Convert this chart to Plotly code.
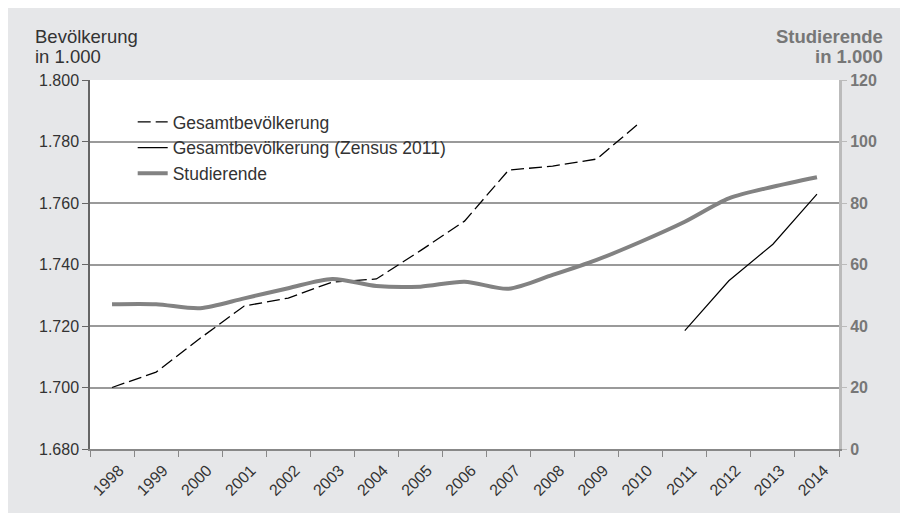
import plotly.graph_objects as go

years = [str(y) for y in range(1998, 2015)]

# Bevölkerung in 1.000 (linke Achse)
bev = [1700.0, 1705.0, 1716.0, 1726.5, 1729.1, 1734.3, 1735.3, 1744.5, 1754.1,
       1770.7, 1772.0, 1774.3, 1786.4]
bev_years = years[:13]
zensus = [1718.5, 1734.7, 1746.6, 1762.9]
zensus_years = years[13:]

# Studierende in 1.000 (rechte Achse)
stud = [47.1, 47.1, 45.8, 49.0, 52.3, 55.3, 53.0, 52.8, 54.4, 52.1, 56.6, 61.5,
        67.4, 73.9, 81.5, 85.3, 88.4]

font = "Liberation Sans, Arial, sans-serif"

fig = go.Figure()
fig.add_trace(go.Scatter(x=bev_years, y=bev, mode="lines", name="Gesamtbevölkerung",
                         line=dict(color="black", width=1.3, dash="13px,5px")))
fig.add_trace(go.Scatter(x=zensus_years, y=zensus, mode="lines",
                         name="Gesamtbevölkerung (Zensus 2011)",
                         line=dict(color="black", width=1.2)))
fig.add_trace(go.Scatter(x=years, y=stud, mode="lines", name="Studierende", yaxis="y2",
                         line=dict(color="#828282", width=4, shape="spline", smoothing=0.8)))

# page has an 8px body margin, so the figure is sized to end where the grey box ends
fig.update_layout(
    width=897, height=505,
    margin=dict(l=82, r=66, t=72, b=64),
    paper_bgcolor="#e6e7e9",
    plot_bgcolor="white",
    separators=",.",
    font=dict(family=font, size=16, color="#333333"),
    showlegend=True,
    legend=dict(x=0.057, y=0.935, xanchor="left", yanchor="top",
                bgcolor="rgba(0,0,0,0)", font=dict(size=17.5, color="#333333"),
                tracegroupgap=0, itemwidth=30),
    xaxis=dict(type="category", tickson="boundaries", ticks="outside", ticklen=6,
               tickcolor="#888888", showline=True, linecolor="#888888", linewidth=1.5,
               showgrid=False, tickangle=-45, tickfont=dict(size=16, color="#333333"),
               ticklabelshift=7, ticklabelstandoff=4, range=[-0.5, 16.5]),
    yaxis=dict(range=[1680, 1800], dtick=20, tickformat=",d", ticks="outside", ticklen=6,
               tickcolor="#666666", showline=True, linecolor="#666666", linewidth=1.5,
               showgrid=True, gridcolor="#9a9a9a", gridwidth=1.5, zeroline=False,
               tickfont=dict(size=16, color="#333333")),
    yaxis2=dict(range=[0, 120], dtick=20, overlaying="y", side="right", ticks="outside",
                ticklen=5, tickcolor="#bbbbbb", showline=True, linecolor="#bbbbbb",
                linewidth=3, showgrid=False, zeroline=False,
                tickfont=dict(size=16, color="#777777", weight="bold")),
)

# axis titles, one annotation per line
fig.add_annotation(text="Bevölkerung", xref="paper", yref="paper",
                   x=-0.0761, y=1.117, xanchor="left", yanchor="middle", showarrow=False,
                   font=dict(size=18.5, color="#333333"))
fig.add_annotation(text="in 1.000", xref="paper", yref="paper",
                   x=-0.0761, y=1.064, xanchor="left", yanchor="middle", showarrow=False,
                   font=dict(size=18.5, color="#333333"))
fig.add_annotation(text="<b>Studierende</b>", xref="paper", yref="paper",
                   x=1.0614, y=1.117, xanchor="right", yanchor="middle", showarrow=False,
                   font=dict(size=18.5, color="#777777"))
fig.add_annotation(text="<b>in 1.000</b>", xref="paper", yref="paper",
                   x=1.0614, y=1.064, xanchor="right", yanchor="middle", showarrow=False,
                   font=dict(size=18.5, color="#777777"))

fig.write_html("out.html")
